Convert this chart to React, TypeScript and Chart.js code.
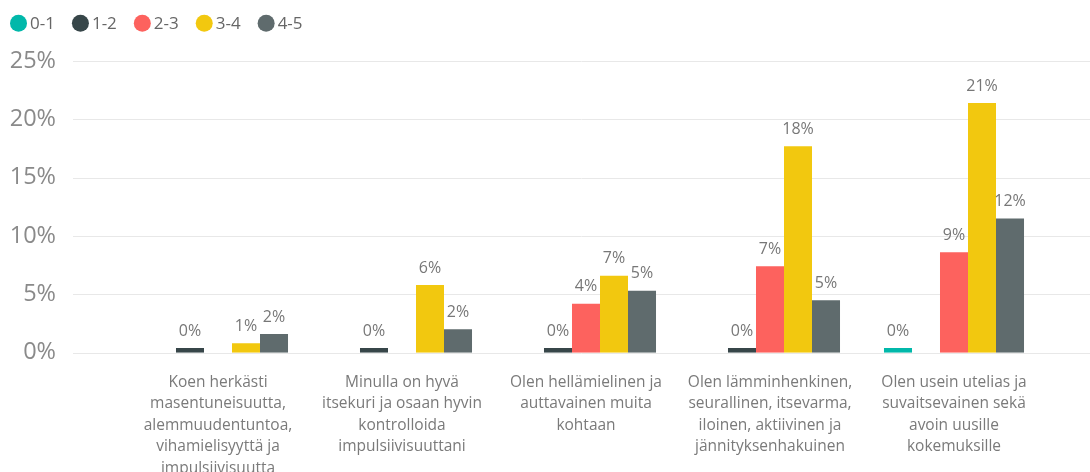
import React, { useEffect, useRef } from "react";
import { Chart, registerables } from "chart.js";

Chart.register(...registerables);

const categories: string[][] = [
  ["Koen herkästi", "masentuneisuutta,", "alemmuudentuntoa,", "vihamielisyyttä ja", "impulsiivisuutta"],
  ["Minulla on hyvä", "itsekuri ja osaan hyvin", "kontrolloida", "impulsiivisuuttani"],
  ["Olen hellämielinen ja", "auttavainen muita", "kohtaan"],
  ["Olen lämminhenkinen,", "seurallinen, itsevarma,", "iloinen, aktiivinen ja", "jännityksenhakuinen"],
  ["Olen usein utelias ja", "suvaitsevainen sekä", "avoin uusille", "kokemuksille"],
];

const seriesNames = ["0-1", "1-2", "2-3", "3-4", "4-5"];
const seriesColors = ["#01B8AA", "#374649", "#FD625E", "#F2C80F", "#5F6B6D"];

const values01 = [null, null, null, null, 0.4];
const values12 = [0.4, 0.4, 0.4, 0.4, null];
const values23 = [null, null, 4.2, 7.4, 8.6];
const values34 = [0.8, 5.8, 6.6, 17.7, 21.4];
const values45 = [1.6, 2.0, 5.3, 4.5, 11.5];

const yTicks = [0, 5, 10, 15, 20, 25];

const FONT = "'Open Sans', 'Noto Sans', sans-serif";

const gridPlugin = {
  id: "customGrid",
  beforeDatasetsDraw(chart: any) {
    const ctx = chart.ctx;
    const y = chart.scales.y;
    ctx.save();
    ctx.strokeStyle = "#e8e8e8";
    ctx.lineWidth = 1;
    yTicks.forEach((t) => {
      const py = Math.round(y.getPixelForValue(t)) + 0.5;
      ctx.beginPath();
      ctx.moveTo(73, py);
      ctx.lineTo(chart.width, py);
      ctx.stroke();
    });
    ctx.restore();
  },
};

const labelPlugin = {
  id: "barLabels",
  afterDatasetsDraw(chart: any) {
    const ctx = chart.ctx;
    ctx.save();
    ctx.font = `16px ${FONT}`;
    ctx.fillStyle = "#777777";
    ctx.textAlign = "center";
    ctx.textBaseline = "alphabetic";
    chart.data.datasets.forEach((ds: any, i: number) => {
      const meta = chart.getDatasetMeta(i);
      meta.data.forEach((bar: any, j: number) => {
        const v = ds.data[j];
        if (v === null || v === undefined) return;
        ctx.fillText(Math.round(v) + "%", bar.x, bar.y - 12.5);
      });
    });
    ctx.restore();
  },
};

const legendPlugin = {
  id: "customLegend",
  afterDraw(chart: any) {
    const ctx = chart.ctx;
    ctx.save();
    ctx.font = `17px ${FONT}`;
    ctx.textBaseline = "middle";
    ctx.textAlign = "left";
    let x = 10;
    const cy = 23.3;
    chart.data.datasets.forEach((ds: any) => {
      ctx.fillStyle = ds.backgroundColor;
      ctx.beginPath();
      ctx.arc(x + 8.5, cy, 8.5, 0, Math.PI * 2);
      ctx.fill();
      ctx.fillStyle = "#666666";
      const tx = x + 20;
      ctx.fillText(ds.label, tx, cy + 0.5);
      x = tx + ctx.measureText(ds.label).width + 17;
    });
    ctx.restore();
  },
};

export default function App() {
  const ref = useRef<HTMLCanvasElement | null>(null);
  useEffect(() => {
    if (!ref.current) return;
    const seriesValues = [values01, values12, values23, values34, values45];
    const chart = new Chart(ref.current, {
      type: "bar",
      data: {
        labels: categories,
        datasets: seriesNames.map((name, i) => ({
          label: name,
          data: seriesValues[i] as any,
          backgroundColor: seriesColors[i],
          borderWidth: 0,
          barPercentage: 1,
          categoryPercentage: 0.761,
          skipNull: false,
        })),
      },
      options: {
        animation: false,
        responsive: false,
        maintainAspectRatio: false,
        layout: { padding: { top: 61, right: 44, bottom: 0, left: 0 } },
        plugins: {
          legend: { display: false },
          tooltip: { enabled: false },
        },
        scales: {
          x: {
            grid: { display: false, drawTicks: false },
            border: { display: false },
            ticks: {
              autoSkip: false,
              maxRotation: 0,
              minRotation: 0,
              padding: 19,
              color: "#7a7a7a",
              font: { family: FONT, size: 15.5, lineHeight: "21.5px" },
            },
            afterFit(scale: any) {
              scale.height = 119.3;
            },
          },
          y: {
            min: 0,
            max: 25,
            grid: { display: false, drawTicks: false },
            border: { display: false },
            ticks: {
              stepSize: 5,
              padding: 70,
              color: "#8a8a8a",
              font: { family: FONT, size: 23.5 },
              callback: (v: any) => v + "%",
            },
            afterFit(scale: any) {
              scale.width = 126;
              scale.paddingTop = 0;
              scale.paddingBottom = 0;
            },
          },
        },
      } as any,
      plugins: [gridPlugin, labelPlugin, legendPlugin],
    });
    return () => chart.destroy();
  }, []);
  return (
    <div style={{ position: "fixed", left: 0, top: 0, width: 1090, height: 472, background: "#fff" }}>
      <canvas ref={ref} width={1090} height={472} />
    </div>
  );
}
